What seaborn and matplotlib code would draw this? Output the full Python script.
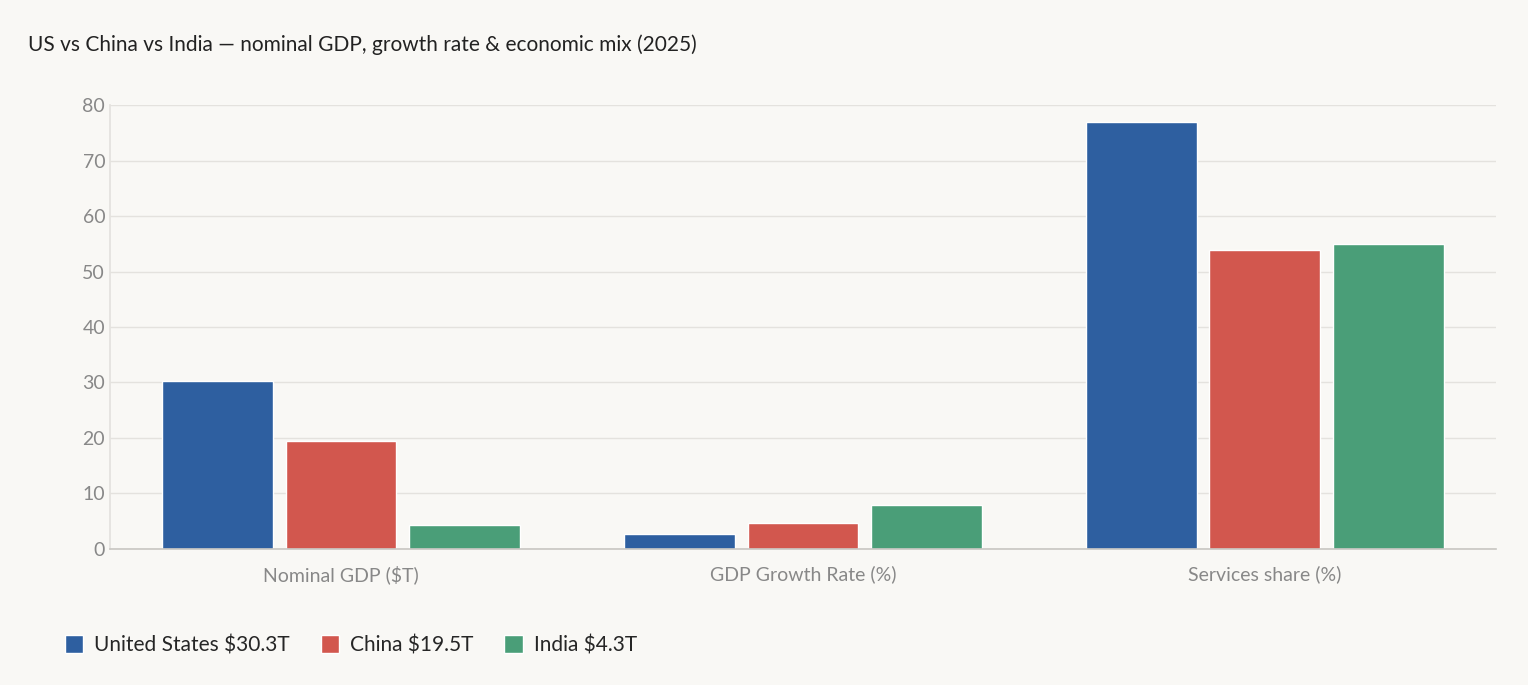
import pandas as pd
import matplotlib.pyplot as plt
import seaborn as sns

###### Data

metrics = ["Nominal GDP ($T)", "GDP Growth Rate (%)", "Services share (%)"]
countries = ["United States $30.3T", "China $19.5T", "India $4.3T"]
us = [30.3, 2.7, 77]
china = [19.5, 4.7, 54]
india = [4.3, 7.8, 55]
colors = ["#2e5fa0", "#d2574e", "#4a9e78"]

df = pd.DataFrame({
    "metric": metrics * 3,
    "country": [countries[0]] * 3 + [countries[1]] * 3 + [countries[2]] * 3,
    "value": us + china + india,
})

###### Plot

sns.set_theme(style="white")
plt.rcParams["font.family"] = ["Lato", "DejaVu Sans"]
bg = "#f9f8f5"

fig = plt.figure(figsize=(15.28, 6.85), dpi=100, facecolor=bg)
ax = fig.add_axes([0.072, 0.199, 0.907, 0.647], facecolor=bg)

sns.barplot(data=df, x="metric", y="value", hue="country", palette=colors,
            width=0.8, gap=0.1, ax=ax, saturation=1, legend=True)

ax.set_ylim(0, 80)
ax.set_yticks(range(0, 81, 10))
ax.yaxis.grid(True, color="#e4e2de", linewidth=1)
ax.set_axisbelow(True)
ax.set_xlabel("")
ax.set_ylabel("")
for s in ["top", "right"]:
    ax.spines[s].set_visible(False)
ax.spines["left"].set_color("#e4e2de")
ax.spines["bottom"].set_color("#c8c6c2")
ax.spines["bottom"].set_linewidth(1.2)
ax.tick_params(axis="both", colors="#888888", labelsize=14, length=0)
ax.tick_params(axis="x", pad=12)

fig.text(0.018, 0.935, "US vs China vs India — nominal GDP, growth rate & economic mix (2025)",
         fontsize=15, color="#222222", va="center")

handles, labels = ax.get_legend_handles_labels()
ax.legend_.remove()
fig.legend(handles, labels, loc="center left", bbox_to_anchor=(0.03, 0.058), ncol=3,
           frameon=False, fontsize=15, handlelength=0.9, handleheight=0.9,
           handletextpad=0.5, columnspacing=1.5)

plt.savefig("out.png", dpi=100, facecolor=bg)
